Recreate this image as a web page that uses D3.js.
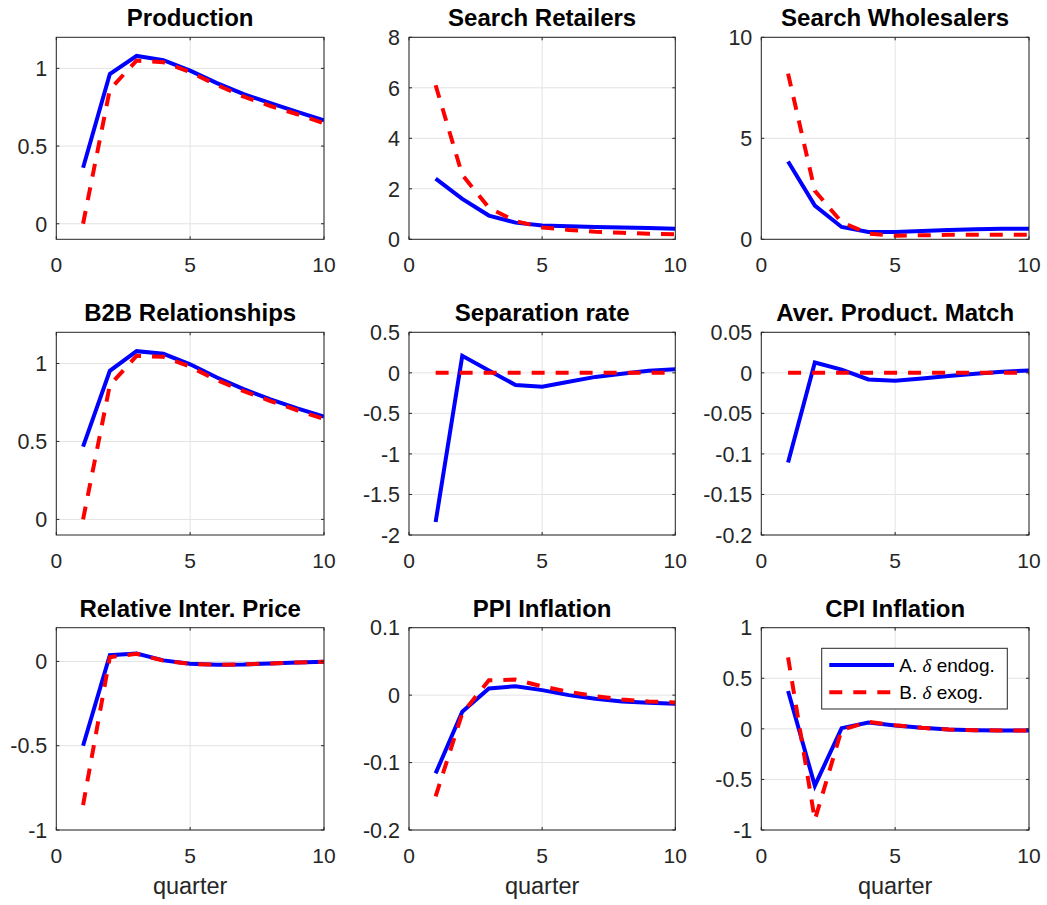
<!DOCTYPE html>
<html>
<head>
<meta charset="utf-8">
<script src="https://cdn.jsdelivr.net/npm/d3@7"></script>
<style>
  body { margin: 0; background: #fff; }
  svg { display: block; font-family: "Liberation Sans", Arial, Helvetica, sans-serif; }
</style>
</head>
<body>
<div id="chart"></div>
<script>
// impulse responses, quarters 1..10
const quarters = [1, 2, 3, 4, 5, 6, 7, 8, 9, 10];
const xTicks = [0, 5, 10];

const titles = ["Production", "Search Retailers", "Search Wholesalers",
  "B2B Relationships", "Separation rate", "Aver. Product. Match",
  "Relative Inter. Price", "PPI Inflation", "CPI Inflation"];

const seriesNames = ["A. \u03b4 endog.", "B. \u03b4 exog."];

const productionEndog = [0.36, 0.964, 1.08, 1.053, 0.985, 0.905, 0.834, 0.776, 0.72, 0.665];
const productionExog  = [0.0, 0.865, 1.05, 1.04, 0.976, 0.893, 0.818, 0.758, 0.705, 0.647];

const retailersEndog = [2.4, 1.6, 0.94, 0.66, 0.55, 0.52, 0.49, 0.47, 0.45, 0.42];
const retailersExog  = [6.1, 2.55, 1.25, 0.72, 0.47, 0.37, 0.30, 0.26, 0.22, 0.20];

const wholesalersEndog = [3.85, 1.67, 0.61, 0.36, 0.36, 0.41, 0.46, 0.50, 0.52, 0.52];
const wholesalersExog  = [8.2, 2.4, 0.85, 0.28, 0.18, 0.20, 0.22, 0.22, 0.23, 0.23];

const b2bEndog = [0.467, 0.953, 1.079, 1.062, 0.995, 0.91, 0.836, 0.77, 0.712, 0.659];
const b2bExog  = [0.0, 0.861, 1.049, 1.043, 0.979, 0.893, 0.823, 0.759, 0.70, 0.644];

const separationEndog = [-1.84, 0.21, 0.03, -0.15, -0.17, -0.11, -0.05, -0.01, 0.025, 0.045];
const separationExog  = [0, 0, 0, 0, 0, 0, 0, 0, 0, 0];

const matchEndog = [-0.1105, 0.0127, 0.004, -0.0082, -0.0099, -0.007, -0.004, -0.001, 0.0012, 0.003];
const matchExog  = [0, 0, 0, 0, 0, 0, 0, 0, 0, 0];

const priceEndog = [-0.50, 0.037, 0.047, 0.006, -0.014, -0.02, -0.018, -0.012, -0.006, -0.002];
const priceExog  = [-0.852, 0.025, 0.045, 0.005, -0.015, -0.02, -0.018, -0.012, -0.006, -0.002];

const ppiEndog = [-0.116, -0.0247, 0.0099, 0.0133, 0.0074, 0.0, -0.0054, -0.0094, -0.0113, -0.0128];
const ppiExog  = [-0.150, -0.027, 0.022, 0.023, 0.013, 0.005, -0.0015, -0.0064, -0.0094, -0.011];

const cpiEndog = [0.374, -0.562, 0.007, 0.062, 0.033, 0.01, -0.007, -0.013, -0.016, -0.016];
const cpiExog  = [0.706, -0.9, -0.01, 0.069, 0.036, 0.01, -0.007, -0.013, -0.016, -0.016];

// axis limits and y tick labels per panel
const yLimits = [[-0.1, 1.2], [0, 8], [0, 10], [-0.1, 1.2], [-2, 0.5], [-0.2, 0.05], [-1, 0.2], [-0.2, 0.1], [-1, 1]];
const yTicks = [
  [0, 0.5, 1], [0, 2, 4, 6, 8], [0, 5, 10],
  [0, 0.5, 1], [-2, -1.5, -1, -0.5, 0, 0.5], [-0.2, -0.15, -0.1, -0.05, 0, 0.05],
  [-1, -0.5, 0], [-0.2, -0.1, 0, 0.1], [-1, -0.5, 0, 0.5, 1]
];

const endog = [productionEndog, retailersEndog, wholesalersEndog, b2bEndog, separationEndog,
  matchEndog, priceEndog, ppiEndog, cpiEndog];
const exog = [productionExog, retailersExog, wholesalersExog, b2bExog, separationExog,
  matchExog, priceExog, ppiExog, cpiExog];

const W = 1047, H = 905;
const colX = [[56.3, 324], [409, 675.3], [761.3, 1029]];
const rowY = [[37.3, 239.3], [332.3, 535], [627.7, 830]];

const svg = d3.select("#chart").append("svg")
  .attr("width", W).attr("height", H);

const axisColor = "#262626";
const gridColor = "#e3e3e3";
const tickLen = 3;

titles.forEach(function(title, i) {
  const col = i % 3, row = Math.floor(i / 3);
  const [x0, x1] = colX[col];
  const [y0, y1] = rowY[row];

  const x = d3.scaleLinear().domain([0, 10]).range([x0, x1]);
  const y = d3.scaleLinear().domain(yLimits[i]).range([y1, y0]);

  const g = svg.append("g").attr("class", "panel");

  // grid
  g.selectAll(".gx").data(xTicks).enter().append("line")
    .attr("x1", d => x(d)).attr("x2", d => x(d))
    .attr("y1", y0).attr("y2", y1)
    .attr("stroke", gridColor).attr("stroke-width", 1);
  g.selectAll(".gy").data(yTicks[i]).enter().append("line")
    .attr("x1", x0).attr("x2", x1)
    .attr("y1", d => y(d)).attr("y2", d => y(d))
    .attr("stroke", gridColor).attr("stroke-width", 1);

  // clip for the lines
  const clipId = "clip" + i;
  svg.append("clipPath").attr("id", clipId)
    .append("rect").attr("x", x0).attr("y", y0)
    .attr("width", x1 - x0).attr("height", y1 - y0);

  const line = d3.line()
    .x((d, k) => x(quarters[k]))
    .y(d => y(d));

  const lines = g.append("g").attr("clip-path", "url(#" + clipId + ")");
  lines.append("path").datum(endog[i])
    .attr("d", line)
    .attr("fill", "none")
    .attr("stroke", "#0000ff")
    .attr("stroke-width", 4);
  lines.append("path").datum(exog[i])
    .attr("d", line)
    .attr("fill", "none")
    .attr("stroke", "#ff0000")
    .attr("stroke-width", 4)
    .attr("stroke-dasharray", "13,11");

  // box
  g.append("rect")
    .attr("x", x0).attr("y", y0)
    .attr("width", x1 - x0).attr("height", y1 - y0)
    .attr("fill", "none").attr("stroke", axisColor).attr("stroke-width", 1);

  // inward ticks on all four sides
  xTicks.forEach(function(t) {
    g.append("line").attr("x1", x(t)).attr("x2", x(t))
      .attr("y1", y1).attr("y2", y1 - tickLen).attr("stroke", axisColor);
    g.append("line").attr("x1", x(t)).attr("x2", x(t))
      .attr("y1", y0).attr("y2", y0 + tickLen).attr("stroke", axisColor);
  });
  yTicks[i].forEach(function(t) {
    g.append("line").attr("x1", x0).attr("x2", x0 + tickLen)
      .attr("y1", y(t)).attr("y2", y(t)).attr("stroke", axisColor);
    g.append("line").attr("x1", x1).attr("x2", x1 - tickLen)
      .attr("y1", y(t)).attr("y2", y(t)).attr("stroke", axisColor);
  });

  // tick labels
  g.selectAll(".xl").data(xTicks).enter().append("text")
    .attr("x", d => x(d)).attr("y", y1 + 33)
    .attr("text-anchor", "middle")
    .attr("font-size", 21).attr("fill", axisColor)
    .text(d => String(d));
  g.selectAll(".yl").data(yTicks[i]).enter().append("text")
    .attr("x", x0 - 9).attr("y", d => y(d))
    .attr("dy", "0.36em")
    .attr("text-anchor", "end")
    .attr("font-size", 21.5).attr("fill", axisColor)
    .text(d => String(d));

  // title
  g.append("text")
    .attr("x", (x0 + x1) / 2).attr("y", y0 - 11)
    .attr("text-anchor", "middle")
    .attr("font-size", 24).attr("font-weight", "bold")
    .attr("fill", "#000")
    .text(title);

  if (row === 2) {
    g.append("text")
      .attr("x", (x0 + x1) / 2).attr("y", y1 + 64)
      .attr("text-anchor", "middle")
      .attr("font-size", 23.5).attr("fill", axisColor)
      .text("quarter");
  }

  // legend in the last panel
  if (i === 8) {
    const lw = 185.6, lh = 60.7;
    const lx = x1 - 21.7 - lw, ly = y0 + 20.6;
    const leg = g.append("g").attr("transform", "translate(" + lx + "," + ly + ")");
    leg.append("rect").attr("width", lw).attr("height", lh)
      .attr("fill", "#fff").attr("stroke", axisColor).attr("stroke-width", 1);
    const rows = [
      { name: seriesNames[0], color: "#0000ff", dash: null, y: 16.7 },
      { name: seriesNames[1], color: "#ff0000", dash: "13,11", y: 44 }
    ];
    rows.forEach(function(r) {
      leg.append("line")
        .attr("x1", 7.6).attr("x2", 72.3)
        .attr("y1", r.y).attr("y2", r.y)
        .attr("stroke", r.color).attr("stroke-width", 4)
        .attr("stroke-dasharray", r.dash);
      const parts = r.name.split("\u03b4");
      const t = leg.append("text")
        .attr("x", 77.6).attr("y", r.y).attr("dy", "0.36em")
        .attr("font-size", 19).attr("fill", "#000");
      t.append("tspan").text(parts[0]);
      t.append("tspan")
        .attr("font-family", "'Liberation Serif', 'DejaVu Serif', serif")
        .attr("font-style", "italic")
        .text("\u03b4");
      t.append("tspan").text(parts[1]);
    });
  }
});
</script>
</body>
</html>
